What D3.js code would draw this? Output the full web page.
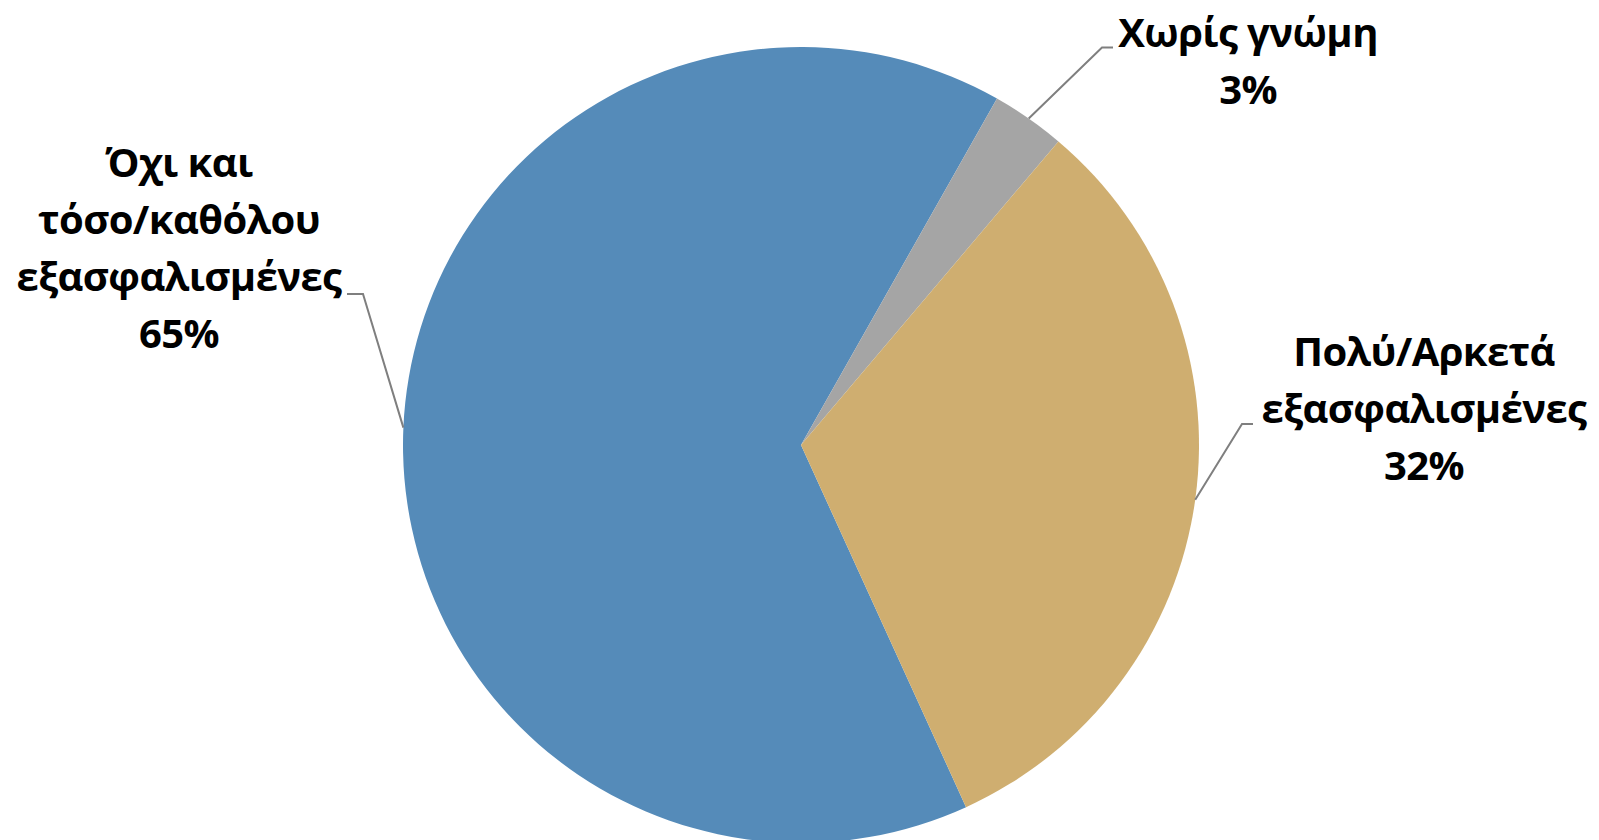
<!DOCTYPE html>
<html>
<head>
<meta charset="utf-8">
<script src="https://cdn.jsdelivr.net/npm/d3@7"></script>
<style>
  body { margin: 0; background: #fff; }
  text { font-family: "Open Sans", "Noto Sans", sans-serif; font-weight: bold; fill: #000; }
</style>
</head>
<body>
<div id="vis"></div>
<script>
// slice data, clockwise from the first slice
const categories = ['Όχι και τόσο/καθόλου εξασφαλισμένες', 'Χωρίς γνώμη', 'Πολύ/Αρκετά εξασφαλισμένες']
const values = [65, 3, 32]
const labelLines = [
    ['Όχι και', 'τόσο/καθόλου', 'εξασφαλισμένες'],
    ['Χωρίς γνώμη'],
    ['Πολύ/Αρκετά', 'εξασφαλισμένες']
]
const colors = ['#558BB9', '#A5A5A5', '#CFAE70']

const width = 1599, height = 840
const cx = 801, cy = 445, radius = 398
const startDeg = 155.5

// where each label sits (centre x, first baseline) and where its leader bends
const labelLayout = [
    {x: 179, y: 177, elbow: [363, 294], end: [347, 294]},
    {x: 1248, y: 47, elbow: [1102, 47.5], end: [1113, 47.5]},
    {x: 1424, y: 366, elbow: [1242, 424], end: [1253, 424]}
]
const lineStep = 57

const svg = d3.select('#vis')
    .append('svg')
    .attr('width', width)
    .attr('height', height)

const g = svg.append('g')
    .attr('transform', `translate(${cx},${cy})`)

const pie = d3.pie()
    .sort(null)
    .value(d => d)
    .startAngle(startDeg * Math.PI / 180)
    .endAngle(startDeg * Math.PI / 180 + 2 * Math.PI)

const arc = d3.arc().innerRadius(0).outerRadius(radius)

const slices = pie(values)

g.selectAll('.slice')
    .data(slices)
    .join('path')
    .attr('class', 'slice')
    .attr('d', arc)
    .attr('fill', (d, i) => colors[i])

// leader lines from the middle of each arc
svg.selectAll('.leader')
    .data(slices)
    .join('polyline')
    .attr('class', 'leader')
    .attr('points', (d, i) => {
        const a = (d.startAngle + d.endAngle) / 2
        const px = cx + radius * Math.sin(a)
        const py = cy - radius * Math.cos(a)
        const L = labelLayout[i]
        return [[px, py], L.elbow, L.end].map(p => p.join(',')).join(' ')
    })
    .attr('fill', 'none')
    .attr('stroke', '#7F7F7F')
    .attr('stroke-width', 2)

// labels: name lines then percentage
slices.forEach((d, i) => {
    const L = labelLayout[i]
    const lines = labelLines[i].concat([values[i] + '%'])
    const t = svg.append('text')
        .attr('text-anchor', 'middle')
        .style('font-size', '40px')
        .style('letter-spacing', '-0.6px')
    lines.forEach((s, j) => {
        t.append('tspan')
            .attr('x', L.x)
            .attr('y', L.y + j * lineStep)
            .text(s)
    })
})
</script>
</body>
</html>
